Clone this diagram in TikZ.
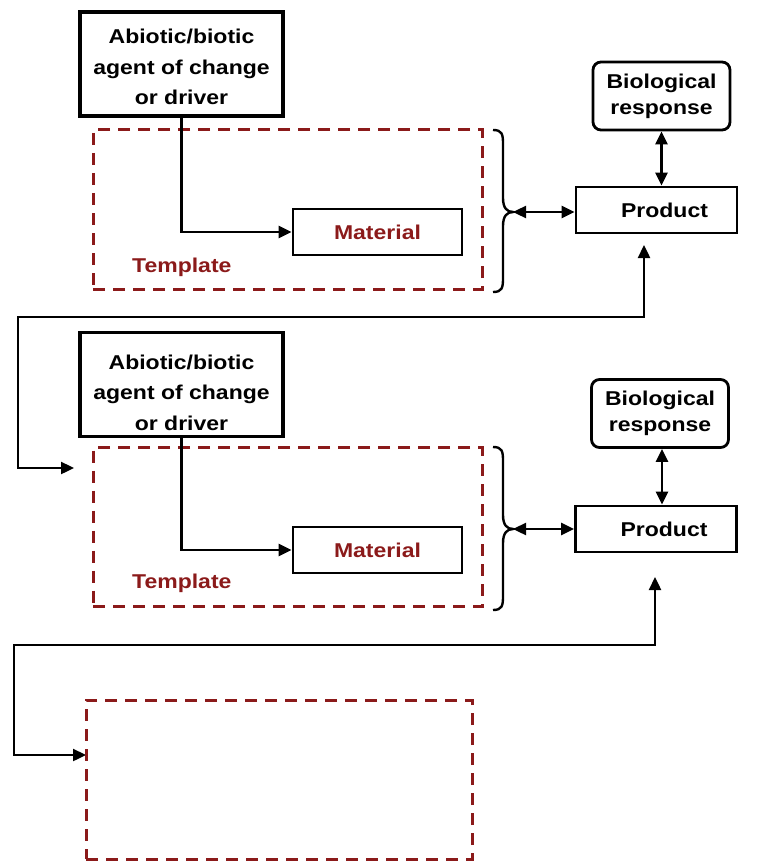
\documentclass[tikz,border=0pt]{standalone}
\usepackage{fontspec}
\setmainfont{Liberation Sans}[FakeStretch=1.15]
\usetikzlibrary{arrows.meta}
\definecolor{dred}{RGB}{139,26,26}
\begin{document}
\begin{tikzpicture}[x=1pt,y=-1pt,
  every node/.style={font=\bfseries\fontsize{20}{30.5}\selectfont},
  agentbox/.style={draw,line width=3.4pt,minimum width=203pt,minimum height=104pt,align=center,inner sep=2pt,text depth=0pt},
  prodbox/.style={draw,line width=2.8pt,minimum width=161pt,minimum height=46pt,inner sep=2pt},
  matbox/.style={draw,line width=2.8pt,minimum width=169pt,minimum height=46pt,text=dred,inner sep=2pt},
  biobox/.style={draw,line width=2.8pt,rounded corners=8pt,minimum width=137pt,minimum height=68pt,align=center,inner sep=2pt,font=\bfseries\fontsize{20}{26}\selectfont},
  tmplbox/.style={draw=dred,line width=3pt,dash pattern=on 12pt off 8pt,minimum height=159pt,inner sep=0pt},
  tmpllabel/.style={text=dred,anchor=west,inner sep=0pt},
  conn/.style={line width=2.4pt},
  arrowend/.style={-{Triangle[length=13pt,width=12pt]}},
  arrowboth/.style={{Triangle[length=13pt,width=12pt]}-{Triangle[length=13pt,width=12pt]}},
  bracepath/.style={line width=2.4pt}]
\useasboundingbox (0,0) rectangle (756,861);

% ---------- panel 1 ----------
\node[tmplbox,minimum width=389pt] (tp1) at (287.5,209.5) {};
\node[agentbox,text height=82pt] (ag1) at (181.5,64) {Abiotic/biotic\\agent of change\\or driver};
\node[matbox] (mat1) at (377.5,232) {Material};
\node[tmpllabel] (tl1) at (132,267) {Template};
\node[prodbox] (prod1) at (656.5,210) {\hspace*{16pt}Product};
\node[biobox] (bio1) at (661.5,96) {Biological\\response};

\draw[conn,arrowend] (ag1.south) |- (mat1.west);
\draw[conn,arrowboth] (bio1.south) -- (prod1.north -| bio1.south);
\coordinate (br1) at (513,212);
\draw[bracepath] (493,130) .. controls (502,130) and (503,134) .. (503,144) -- (503,198)
  .. controls (503,208) and (507,212) .. (br1)
  .. controls (507,212) and (503,216) .. (503,226) -- (503,278)
  .. controls (503,288) and (502,292) .. (493,292);
\draw[conn,arrowboth] (br1) -- (br1 -| prod1.west);

\coordinate (fb1a) at (644,245);
\coordinate (fb1c) at (18,317);
\coordinate (fb1b) at (74,468);
\draw[conn,arrowboth] (fb1a) |- (fb1c) |- (fb1b);

% ---------- panel 2 ----------
\node[tmplbox,minimum width=389pt] (tp2) at (287.5,527) {};
\node[agentbox,text height=91pt] (ag2) at (181.5,384.5) {Abiotic/biotic\\agent of change\\or driver};
\node[matbox] (mat2) at (377.5,550) {Material};
\node[tmpllabel] (tl2) at (132,583) {Template};
\node[prodbox] (prod2) at (656,529) {\hspace*{16pt}Product};
\node[biobox] (bio2) at (660,413.5) {Biological\\response};

\draw[conn,arrowend] (ag2.south) |- (mat2.west);
\draw[conn,arrowboth] (bio2.south -| 662,0) -- (prod2.north -| 662,0);
\coordinate (br2) at (513,529);
\draw[bracepath] (493,447) .. controls (502,447) and (503,451) .. (503,461) -- (503,515)
  .. controls (503,525) and (507,529) .. (br2)
  .. controls (507,529) and (503,533) .. (503,543) -- (503,596)
  .. controls (503,606) and (502,610) .. (493,610);
\draw[conn,arrowboth] (br2) -- (br2 -| prod2.west);

\coordinate (fb2a) at (655,577);
\coordinate (fb2c) at (14,645);
\coordinate (fb2b) at (86,755);
\draw[conn,arrowboth] (fb2a) |- (fb2c) |- (fb2b);

% ---------- panel 3 ----------
\node[tmplbox,minimum width=386pt] (tp3) at (279,779.5) {};
\end{tikzpicture}
\end{document}
